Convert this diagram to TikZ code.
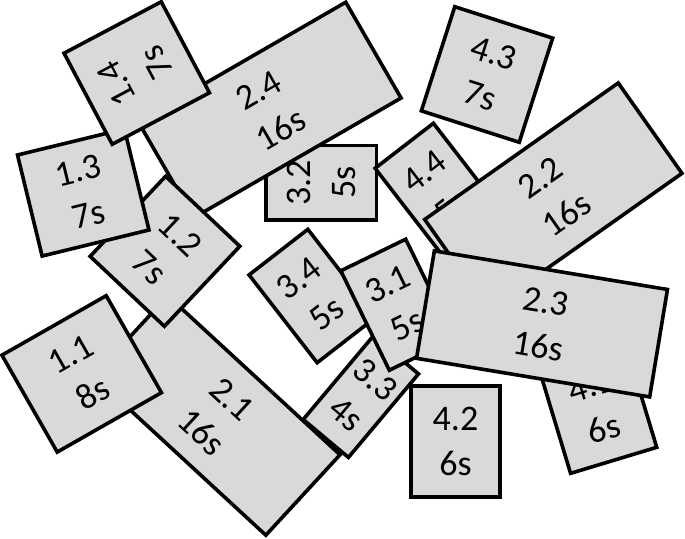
\documentclass[tikz,border=0pt]{standalone}
\usepackage{fontspec}
\setmainfont{Carlito}
\definecolor{tilegray}{RGB}{217,217,217}
\begin{document}
\begin{tikzpicture}[x=1pt,y=-1pt,
  tile/.style={draw=black, fill=tilegray, line width=3.6pt, inner sep=0pt,
    align=center, font=\fontsize{36}{45}\selectfont},
]
\useasboundingbox (0,0) rectangle (685,538);
\node[tile, minimum width=74.3pt, minimum height=110.7pt, rotate=90] (t32) at (321.3,182.8) {3.2\\5s};
\node[tile, minimum width=234.4pt, minimum height=109.4pt, rotate=-42.7] (t21) at (216.8,415.5) {2.1\\16s};
\node[tile, minimum width=239.5pt, minimum height=110.6pt, rotate=30] (t24) at (269.7,110) {2.4\\16s};
\node[tile, minimum width=102pt, minimum height=110pt, rotate=-43.3] (t12) at (165,251.3) {1.2\\7s};
\node[tile, minimum width=110pt, minimum height=104pt, rotate=13.7] (t13) at (83.25,192.5) {1.3\\7s};
\node[tile, minimum width=103pt, minimum height=110pt, rotate=117.9] (t14) at (136.75,73) {1.4\\7s};
\node[tile, minimum width=120pt, minimum height=111.6pt, rotate=29.7] (t11) at (81.7,373.9) {1.1\\8s};
\node[tile, minimum width=73.7pt, minimum height=110pt, rotate=37.7] (t44) at (437.9,189.3) {4.4\\5s};
\node[tile, minimum width=236.8pt, minimum height=110.6pt, rotate=35.2] (t22) at (553.35,196.4) {2.2\\16s};
\node[tile, minimum width=74.4pt, minimum height=111.1pt, rotate=37.8] (t34) at (312.5,296) {3.4\\5s};
\node[tile, minimum width=59pt, minimum height=109pt, rotate=-40] (t33) at (360.85,396.7) {3.3\\4s};
\node[tile, minimum width=72.2pt, minimum height=110.6pt, rotate=26] (t31) at (397.5,304.7) {3.1\\5s};
\node[tile, minimum width=90pt, minimum height=111pt, rotate=16.8] (t41) at (597.6,407.2) {4.1\\6s};
\node[tile, minimum width=236.3pt, minimum height=108.9pt, rotate=-9.4] (t23) at (542,323.9) {2.3\\16s};
\node[tile, minimum width=89pt, minimum height=111pt] (t42) at (455.5,441.2) {4.2\\6s};
\node[tile, minimum width=102.8pt, minimum height=109.4pt, rotate=-17.8] (t43) at (487,74.5) {4.3\\7s};
\end{tikzpicture}
\end{document}
